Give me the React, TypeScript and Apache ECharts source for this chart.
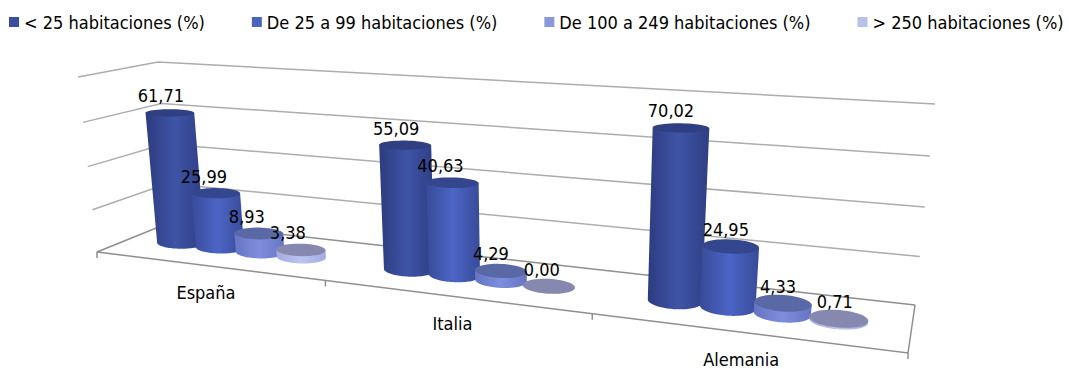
import React, { useEffect, useRef } from "react";
import * as echarts from "echarts";

const categories = ["España", "Italia", "Alemania"];
const seriesNames = [
  "< 25 habitaciones (%)",
  "De 25 a 99 habitaciones (%)",
  "De 100 a 249 habitaciones (%)",
  "> 250 habitaciones (%)",
];
const under25 = [61.71, 55.09, 70.02];
const from25to99 = [25.99, 40.63, 24.95];
const from100to249 = [8.93, 4.29, 4.33];
const over250 = [3.38, 0.0, 0.71];
const gridLevels = [0, 20, 40, 60, 80];

const seriesValues = [under25, from25to99, from100to249, over250];

// Per-series shading of the cylinders: side edge, side centre, cap.
const legendColors = ["#3b4da0", "#4a62c0", "#8b98dc", "#b8bfe8"];
const sideColors = [
  ["#2d3c80", "#3f54a6", "#2f3e84"],
  ["#384b98", "#4c65c6", "#384b98"],
  ["#6675c2", "#7e8ede", "#6675c2"],
  ["#a3acdf", "#bcc4f0", "#a3acdf"],
];
const capColors = ["#2f3f82", "#34468e", "#5a69a6", "#8688b0"];

// Horizontal nudge of each value label from its cylinder, per series then per category.
const labelNudge = [
  [-9, -9, -10],
  [-12, -12, -5],
  [-12, -10, -5],
  [-13, -7, -4],
];

const FONT = "DejaVu Sans Condensed";
const FONT_SIZE = 18;

type Pt = [number, number];

// Maps the unit square onto a screen quad (front-left, front-right, back-right, back-left).
function quadMap(p0: Pt, p1: Pt, p2: Pt, p3: Pt) {
  const dx1 = p1[0] - p2[0];
  const dx2 = p3[0] - p2[0];
  const sx = p0[0] - p1[0] + p2[0] - p3[0];
  const dy1 = p1[1] - p2[1];
  const dy2 = p3[1] - p2[1];
  const sy = p0[1] - p1[1] + p2[1] - p3[1];
  const den = dx1 * dy2 - dx2 * dy1;
  const g = (sx * dy2 - dx2 * sy) / den;
  const h = (dx1 * sy - sx * dy1) / den;
  const a = p1[0] - p0[0] + g * p1[0];
  const b = p3[0] - p0[0] + h * p3[0];
  const d = p1[1] - p0[1] + g * p1[1];
  const e = p3[1] - p0[1] + h * p3[1];
  return (u: number, v: number): Pt => {
    const w = g * u + h * v + 1;
    return [(a * u + b * v + p0[0]) / w, (d * u + e * v + p0[1]) / w];
  };
}

const floorPlane = quadMap([97, 252], [908, 353], [915, 305], [171, 222]);
const ceilingPlane = quadMap([78, 77], [932, 129], [935, 104], [158, 62]);

// Perspective box: u along the categories, h up the value axis, z into the depth.
function project(u: number, h: number, z: number): Pt {
  const a = floorPlane(u, z);
  const b = ceilingPlane(u, z);
  const k = h / (1 + 0.05 * (1 - h));
  return [a[0] + (b[0] - a[0]) * k, a[1] + (b[1] - a[1]) * k];
}

// Turns a grid pixel from the axes' scales into box coordinates.
function toBox(params: any, api: any, value: number[]) {
  const c = api.coord(value);
  const cs = params.coordSys;
  return { u: (c[0] - cs.x) / cs.width, h: (cs.y + cs.height - c[1]) / cs.height };
}

const DEPTH_MID = 0.47;
const DEPTH_RADIUS = 0.19;

function ellipseAt(u: number, h: number, rU: number) {
  const c = project(u, h, DEPTH_MID);
  const widen = Math.max(0.94, 1.14 - 0.27 * u);
  const rx = (widen * (project(u + rU, h, DEPTH_MID)[0] - project(u - rU, h, DEPTH_MID)[0])) / 2;
  const ry = Math.abs(project(u, h, DEPTH_MID + DEPTH_RADIUS)[1] - project(u, h, DEPTH_MID - DEPTH_RADIUS)[1]) / 2;
  return { c, rx, ry, tilt: 0.09 * u * (1 - 0.9 * h) };
}

function ellipsePoints(e: any, from = 0, to = Math.PI * 2, n = 48): Pt[] {
  const pts: Pt[] = [];
  for (let i = 0; i <= n; i++) {
    const a = from + ((to - from) * i) / n;
    const x = e.rx * Math.cos(a);
    const y = e.ry * Math.sin(a);
    pts.push([
      e.c[0] + x * Math.cos(e.tilt) - y * Math.sin(e.tilt),
      e.c[1] + x * Math.sin(e.tilt) + y * Math.cos(e.tilt),
    ]);
  }
  return pts;
}

const cylinderSeries = (index: number) => ({
  type: "custom",
  name: seriesNames[index],
  itemStyle: { color: legendColors[index] },
  coordinateSystem: "cartesian2d",
  encode: { x: 0, y: 1 },
  z: 3 + index,
  silent: true,
  data: seriesValues[index].map((v, i) => [i, v]),
  renderItem: (params: any, api: any) => {
    const value = [api.value(0), api.value(1)];
    const box = toBox(params, api, value);
    const base = toBox(params, api, [value[0], 0]);
    const band = api.size([1, 0])[0] / params.coordSys.width;
    const u = box.u + band * 0.1818 * (index - 1.5);
    const rU = band * 0.1;
    const top = ellipseAt(u, box.h, rU);
    const bottom = ellipseAt(u, base.h, rU);
    const children: any[] = [];
    if (value[1] > 0) {
      const front = ellipsePoints(bottom, 0, Math.PI);
      const a = ellipsePoints(top, Math.PI, Math.PI, 1)[0];
      const b = ellipsePoints(top, 0, 0, 1)[0];
      const [edgeL, mid, edgeR] = sideColors[index];
      children.push({
        type: "polygon",
        shape: { points: [b, ...front, a] },
        style: {
          fill: new echarts.graphic.LinearGradient(0, 0, 1, 0, [
            { offset: 0, color: edgeL },
            { offset: 0.5, color: mid },
            { offset: 1, color: edgeR },
          ]),
        },
      });
    }
    children.push({
      type: "polygon",
      shape: { points: ellipsePoints(top) },
      style: { fill: capColors[index] },
    });
    return { type: "group", children };
  },
});

// Value labels are one extra series, drawn above every cylinder.
const labelData = seriesValues.flatMap((vals, s) => vals.map((v, i) => [i, v, s]));

const labelSeries = {
  type: "custom",
  name: "valores",
  coordinateSystem: "cartesian2d",
  encode: { x: 0, y: 1 },
  z: 10,
  silent: true,
  data: labelData,
  renderItem: (params: any, api: any) => {
    const value = [api.value(0), api.value(1)];
    const s = api.value(2);
    const box = toBox(params, api, value);
    const band = api.size([1, 0])[0] / params.coordSys.width;
    const u = box.u + band * 0.1818 * (s - 1.5);
    const c = project(u, box.h, DEPTH_MID);
    return {
      type: "text",
      style: {
        x: c[0] + labelNudge[s][value[0]],
        y: c[1] - 17,
        text: value[1].toFixed(2).replace(".", ","),
        fill: "#000",
        font: `${FONT_SIZE}px "${FONT}"`,
        textAlign: "center",
        textVerticalAlign: "middle",
      },
    };
  },
};

const LINE = { stroke: "#adadad", lineWidth: 1.5, fill: "none" };
const FLOOR_LINE = { stroke: "#8f8f8f", lineWidth: 1.5, fill: "none" };

const wallSeries = {
  type: "custom",
  name: "paredes",
  coordinateSystem: "cartesian2d",
  encode: { x: 0, y: 1 },
  z: 1,
  silent: true,
  data: gridLevels.map((l) => [0, l]),
  renderItem: (params: any, api: any) => {
    const { h } = toBox(params, api, [0, api.value(1)]);
    const style = h === 0 ? FLOOR_LINE : LINE;
    return {
      type: "polyline",
      shape: { points: [project(0, h, 0), project(0, h, 1), project(1, h, 1)] },
      style,
    };
  },
};

const floorSeries = {
  type: "custom",
  name: "suelo",
  coordinateSystem: "cartesian2d",
  encode: { x: 0, y: 1 },
  z: 2,
  silent: true,
  data: categories.map((_, i) => [i, 0]),
  renderItem: (params: any, api: any) => {
    const i = api.value(0);
    const { u } = toBox(params, api, [i, 0]);
    const band = api.size([1, 0])[0] / params.coordSys.width;
    const tick = (t: number) => {
      const p = project(t, 0, 0);
      return { type: "line", shape: { x1: p[0], y1: p[1], x2: p[0], y2: p[1] + 6 }, style: FLOOR_LINE };
    };
    const l = project(u, 0, 0);
    const labelOffset = [-1, -1, -2][i];
    const children: any[] = [
      tick(u - band / 2),
      {
        type: "text",
        style: {
          x: l[0] + labelOffset,
          y: l[1] + [27, 27, 27][i],
          text: categories[i],
          fill: "#000",
          font: `${FONT_SIZE}px "${FONT}"`,
          textAlign: "center",
          textVerticalAlign: "middle",
        },
      },
    ];
    if (i === categories.length - 1) {
      children.push(tick(1), {
        type: "polyline",
        shape: { points: [project(0, 0, 0), project(1, 0, 0), project(1, 0, 1)] },
        style: FLOOR_LINE,
      });
    }
    return { type: "group", children };
  },
};

export default function App() {
  const ref = useRef<HTMLDivElement>(null);
  useEffect(() => {
    const chart = echarts.init(ref.current!, undefined, { renderer: "svg" });
    chart.setOption({
      animation: false,
      backgroundColor: "#fff",
      legend: {
        data: seriesNames,
        left: 9,
        top: 13,
        padding: 0,
        icon: "rect",
        itemWidth: 10,
        itemHeight: 10,
        itemGap: 47,
        selectedMode: false,
        textStyle: { fontFamily: FONT, fontSize: FONT_SIZE, color: "#000", padding: [0, 0, 0, 0] },
      },
      grid: { left: 0, right: 0, top: 0, bottom: 0 },
      xAxis: { type: "category", data: categories, show: false },
      yAxis: { type: "value", min: 0, max: 80, interval: 20, show: false },
      series: [wallSeries, floorSeries, ...seriesNames.map((_, i) => cylinderSeries(i)), labelSeries],
    });
    return () => chart.dispose();
  }, []);
  return (
    <div
      ref={ref}
      style={{ position: "absolute", left: 0, top: 0, width: 1069, height: 369 }}
    />
  );
}
